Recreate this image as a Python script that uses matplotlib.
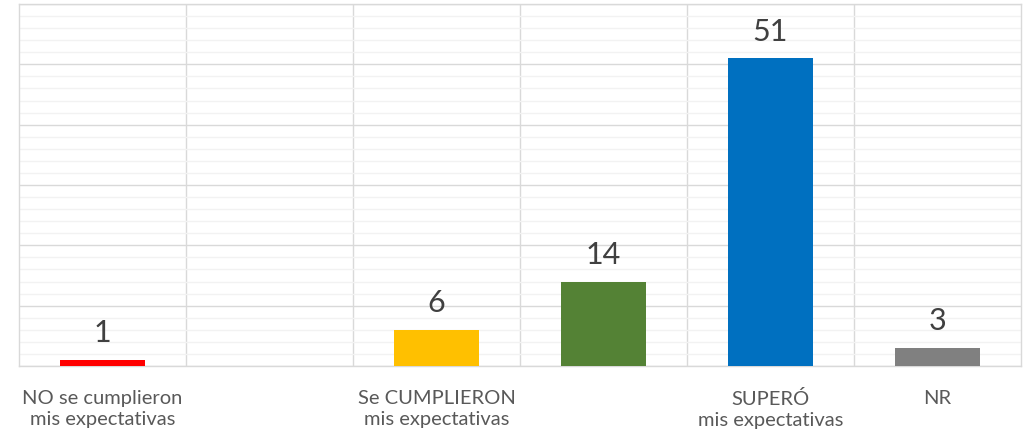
import numpy as np
import matplotlib.pyplot as plt
from matplotlib.ticker import MultipleLocator

categories = ['NO se cumplieron\nmis expectativas', '', 'Se CUMPLIERON\nmis expectativas',
              '', 'SUPERÓ\nmis expectativas', 'NR']
values = [1, 0, 6, 14, 51, 3]
value_labels = ['1', '', '6', '14', '51', '3']
colors = ['#ff0000', '#ffffff', '#ffc000', '#548235', '#0070c0', '#808080']

plt.rcParams['font.family'] = ['Lato', 'DejaVu Sans']

fig = plt.figure(figsize=(10.30, 4.36), dpi=100)
ax = fig.add_axes([19 / 1030, 70 / 436, 1002 / 1030, 362 / 436])

x = np.arange(len(categories))
bars = ax.bar(x, values, width=0.51, color=colors, zorder=3)

for xi, v, lab in zip(x, values, value_labels):
    if lab:
        ax.annotate(lab, (xi, v), xytext=(0, 9), textcoords='offset points',
                    ha='center', va='bottom', fontsize=22, color='#404040')

ax.set_xlim(-0.5, len(categories) - 0.5)
ax.set_ylim(0, 60)

# horizontal gridlines
ax.yaxis.set_major_locator(MultipleLocator(10))
ax.yaxis.set_minor_locator(MultipleLocator(2))
ax.grid(axis='y', which='major', color='#d9d9d9', linewidth=1.0, zorder=0)
ax.grid(axis='y', which='minor', color='#f2f2f2', linewidth=1.0, zorder=0)
# vertical separators between categories
for b in np.arange(0.5, len(categories) - 1, 1.0):
    ax.axvline(b, color='#d9d9d9', linewidth=1.0, zorder=0)

ax.set_xticks(x)
ax.set_xticklabels(categories, fontsize=14.5, color='#595959', linespacing=1.3)
ax.tick_params(axis='x', length=0, pad=17)
ax.tick_params(axis='y', which='both', length=0, labelleft=False)

for side in ['left', 'right', 'top', 'bottom']:
    ax.spines[side].set_color('#d9d9d9')
    ax.spines[side].set_linewidth(1.0)

plt.savefig('out.png', dpi=100)
plt.close()
